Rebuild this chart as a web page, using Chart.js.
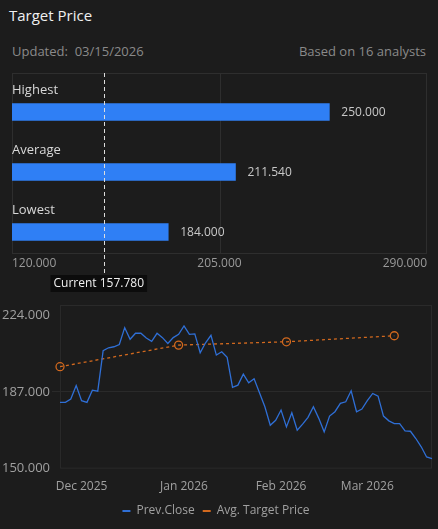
<!DOCTYPE html>
<html>
<head>
<meta charset="utf-8">
<script src="https://cdn.jsdelivr.net/npm/chart.js@4/dist/chart.umd.min.js"></script>
<style>
  body { margin: 0; background: #1c1c1c; font-family: "Open Sans", "Noto Sans", sans-serif; width: 438px; height: 529px; overflow: hidden; position: relative; }
  #title { position: absolute; left: 9px; top: 5px; color: #f0f0f0; font-size: 15px; }
  #updated { position: absolute; left: 12px; top: 42px; color: #8a8a8a; font-size: 13px; }
  #based { position: absolute; right: 12px; top: 42px; color: #8a8a8a; font-size: 13px; }
  #bars { position: absolute; left: 0; top: 64px; }
  #line { position: absolute; left: 0; top: 296px; }
</style>
</head>
<body>
<div id="title">Target Price</div>
<div id="updated">Updated:&nbsp; 03/15/2026</div>
<div id="based">Based on 16 analysts</div>
<canvas id="bars" width="438" height="232"></canvas>
<canvas id="line" width="438" height="233"></canvas>
<script>
const targetLabels = ['Highest', 'Average', 'Lowest'];
const targetValues = [250, 211.54, 184];
const currentPrice = 157.78;
const barTicks = [120, 205, 290];

const prevClose = [181.9, 181.9, 183.5, 190, 182.7, 181.9, 187.8, 187.3, 206.8, 208.2, 208.7, 209.8,
  217.9, 212.3, 215.2, 215.2, 212.9, 211.3, 215.2, 213.1, 210.3, 213.1, 214.7, 218.7, 214.7, 214.9,
  205.8, 210.6, 214.2, 204.7, 206.3, 203.6, 189.1, 190.2, 195.5, 191.3, 193.3, 186.5, 179.8, 170.9,
  173.3, 178.2, 170.1, 176.9, 168.5, 171.4, 174.7, 179.8, 174.2, 167.7, 175.3, 177.4, 181.4, 182.2,
  187.5, 177.4, 178.7, 182.7, 186.2, 184.9, 175.3, 173.0, 171.7, 171.7, 168.2, 168.0, 164.5, 160.5,
  155.6, 154.8];
const avgTarget = [];
const avgTargetPoints = { 0: 199.1, 22: 209.5, 42: 211.1, 62: 214.0 };
const monthTicks = { 4: 'Dec 2025', 23: 'Jan 2026', 41: 'Feb 2026', 57: 'Mar 2026' };
const lineTicks = [150, 187, 224];

for (let i = 0; i < prevClose.length; i++) avgTarget.push(avgTargetPoints[i] ?? null);
const dayLabels = prevClose.map((v, i) => monthTicks[i] || '');

const font = { family: '"Open Sans", "Noto Sans", sans-serif', size: 12 };

const barDecor = {
  id: 'barDecor',
  beforeDatasetsDraw(chart) {
    const { ctx, chartArea: a, scales: { x } } = chart;
    const top = a.top - 9, bottom = a.bottom - 9;
    ctx.save();
    ctx.strokeStyle = '#2e2e2e';
    ctx.lineWidth = 1;
    ctx.strokeRect(a.left + 0.5, top + 0.5, a.right - a.left - 1, bottom - top);
    const gx = Math.round(x.getPixelForValue(205)) + 0.5;
    ctx.beginPath();
    ctx.moveTo(gx, top);
    ctx.lineTo(gx, bottom);
    ctx.stroke();
    ctx.font = '12px "Open Sans", sans-serif';
    ctx.fillStyle = '#9a9a9a';
    ctx.textBaseline = 'middle';
    barTicks.forEach((v, i) => {
      ctx.textAlign = i === 0 ? 'left' : (i === barTicks.length - 1 ? 'right' : 'center');
      ctx.fillText(v.toFixed(3), x.getPixelForValue(v), bottom + 11);
    });
    ctx.restore();
  },
  afterDatasetsDraw(chart) {
    const { ctx, chartArea: a, scales: { x, y } } = chart;
    const top = a.top - 9, bottom = a.bottom - 9;
    ctx.save();
    ctx.textAlign = 'left';
    ctx.textBaseline = 'middle';
    targetLabels.forEach((lab, i) => {
      const yc = y.getPixelForValue(i);
      ctx.font = '13px "Open Sans", sans-serif';
      ctx.fillStyle = '#d8d8d8';
      ctx.fillText(lab, a.left, yc - 22);
      ctx.font = '12px "Open Sans", sans-serif';
      ctx.fillStyle = '#c8c8c8';
      ctx.fillText(targetValues[i].toFixed(3), x.getPixelForValue(targetValues[i]) + 12, yc + 1);
    });
    const cx = Math.round(x.getPixelForValue(currentPrice)) + 0.5;
    ctx.strokeStyle = '#dddddd';
    ctx.setLineDash([4, 3]);
    ctx.beginPath();
    ctx.moveTo(cx, top);
    ctx.lineTo(cx, bottom + 22);
    ctx.stroke();
    ctx.setLineDash([]);
    ctx.font = '12px "Open Sans", sans-serif';
    const txt = 'Current ' + currentPrice.toFixed(3);
    const w = ctx.measureText(txt).width + 6;
    ctx.fillStyle = '#0c0c0c';
    ctx.fillRect(cx - 54, bottom + 22, w, 17);
    ctx.fillStyle = '#f0f0f0';
    ctx.fillText(txt, cx - 51, bottom + 31);
    ctx.restore();
  }
};

new Chart(document.getElementById('bars'), {
  type: 'bar',
  data: {
    labels: targetLabels,
    datasets: [{ data: targetValues, backgroundColor: '#2f7ff5', barThickness: 17 }]
  },
  options: {
    indexAxis: 'y',
    responsive: false,
    animation: false,
    layout: { padding: { left: 12, right: 11, top: 18, bottom: 34 } },
    plugins: { legend: { display: false }, tooltip: { enabled: false } },
    scales: {
      x: { min: 120, max: 290, display: false },
      y: { display: false }
    }
  },
  plugins: [barDecor]
});

const lineBox = {
  id: 'lineBox',
  beforeDatasetsDraw(chart) {
    const { ctx, chartArea: a } = chart;
    ctx.save();
    ctx.strokeStyle = '#2a2a2a';
    ctx.strokeRect(a.left + 0.5, a.top - 9.5, a.right - a.left - 1, a.bottom - a.top + 9);
    ctx.restore();
  }
};

new Chart(document.getElementById('line'), {
  type: 'line',
  data: {
    labels: dayLabels,
    datasets: [
      { label: 'Prev.Close', data: prevClose, borderColor: '#2f6fd6', backgroundColor: '#2f6fd6',
        borderWidth: 1.3, pointRadius: 0, tension: 0 },
      { label: 'Avg. Target Price', data: avgTarget, borderColor: '#d2691e', backgroundColor: '#d2691e',
        borderWidth: 1.3, borderDash: [3, 3], spanGaps: true, pointRadius: 4, pointBorderWidth: 1.3,
        pointBackgroundColor: 'transparent', pointBorderColor: '#d2691e' }
    ]
  },
  options: {
    responsive: false,
    animation: false,
    layout: { padding: { left: 0, right: 6, top: 19, bottom: 2 } },
    plugins: {
      tooltip: { enabled: false },
      legend: {
        position: 'bottom',
        labels: {
          color: '#a0a0a0', font,
          boxWidth: 8, boxHeight: 2, padding: 8,
          generateLabels: chart => chart.data.datasets.map((d, i) => ({
            text: d.label, fillStyle: d.borderColor, strokeStyle: d.borderColor,
            lineWidth: 0, datasetIndex: i, fontColor: '#a0a0a0'
          }))
        }
      }
    },
    scales: {
      x: {
        grid: { display: false },
        border: { display: false },
        ticks: {
          color: '#a0a0a0', font, autoSkip: false, maxRotation: 0, padding: 3,
          callback: (v, i) => dayLabels[i]
        }
      },
      y: {
        min: 150, max: 224,
        afterBuildTicks: s => { s.ticks = lineTicks.map(v => ({ value: v })); },
        grid: { color: c => c.tick && c.tick.value === 187 ? '#2a2a2a' : 'transparent' },
        border: { display: false },
        ticks: { color: '#a0a0a0', font: { family: font.family, size: 13 }, padding: 2,
          callback: v => v.toFixed(3) }
      }
    }
  },
  plugins: [lineBox]
});
</script>
</body>
</html>
